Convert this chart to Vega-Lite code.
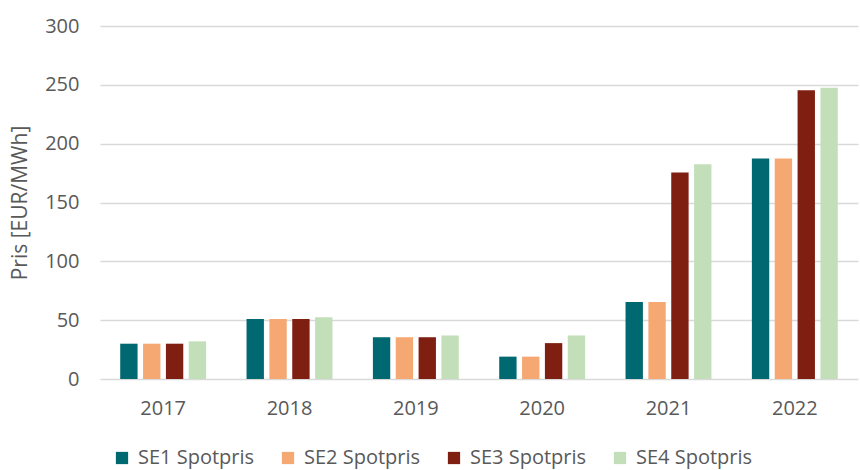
{
  "$schema": "https://vega.github.io/schema/vega-lite/v6.json",
  "width": 758,
  "height": 353,
  "autosize": "none",
  "padding": {"left": 100, "top": 26, "right": 2, "bottom": 91},
  "background": "white",
  "config": {
    "font": "Open Sans",
    "view": {"stroke": null},
    "axis": {"labelColor": "#595959", "titleColor": "#595959", "labelFont": "Open Sans", "titleFont": "Open Sans"}
  },
  "data": {
    "values": [
      {"year": "2017", "series": "SE1 Spotpris", "value": 30},
      {"year": "2017", "series": "SE2 Spotpris", "value": 30},
      {"year": "2017", "series": "SE3 Spotpris", "value": 30},
      {"year": "2017", "series": "SE4 Spotpris", "value": 32},
      {"year": "2018", "series": "SE1 Spotpris", "value": 51},
      {"year": "2018", "series": "SE2 Spotpris", "value": 51},
      {"year": "2018", "series": "SE3 Spotpris", "value": 51},
      {"year": "2018", "series": "SE4 Spotpris", "value": 52.5},
      {"year": "2019", "series": "SE1 Spotpris", "value": 35.5},
      {"year": "2019", "series": "SE2 Spotpris", "value": 35.5},
      {"year": "2019", "series": "SE3 Spotpris", "value": 35.5},
      {"year": "2019", "series": "SE4 Spotpris", "value": 37},
      {"year": "2020", "series": "SE1 Spotpris", "value": 19},
      {"year": "2020", "series": "SE2 Spotpris", "value": 19},
      {"year": "2020", "series": "SE3 Spotpris", "value": 30.5},
      {"year": "2020", "series": "SE4 Spotpris", "value": 37},
      {"year": "2021", "series": "SE1 Spotpris", "value": 65.5},
      {"year": "2021", "series": "SE2 Spotpris", "value": 65.5},
      {"year": "2021", "series": "SE3 Spotpris", "value": 175.5},
      {"year": "2021", "series": "SE4 Spotpris", "value": 182.5},
      {"year": "2022", "series": "SE1 Spotpris", "value": 187.5},
      {"year": "2022", "series": "SE2 Spotpris", "value": 187.5},
      {"year": "2022", "series": "SE3 Spotpris", "value": 245.5},
      {"year": "2022", "series": "SE4 Spotpris", "value": 247.5}
    ]
  },
  "mark": {"type": "bar"},
  "encoding": {
    "x": {
      "field": "year",
      "type": "nominal",
      "scale": {"paddingInner": 0.32, "paddingOuter": 0.16},
      "axis": {"title": null, "labelAngle": 0, "labelFontSize": 20, "labelPadding": 19, "ticks": false, "domain": false, "grid": false}
    },
    "xOffset": {
      "field": "series",
      "type": "nominal",
      "scale": {"paddingInner": 0.24, "paddingOuter": 0}
    },
    "y": {
      "field": "value",
      "type": "quantitative",
      "scale": {"domain": [0, 300], "nice": false},
      "axis": {
        "title": "Pris [EUR/MWh]",
        "titleFontSize": 21,
        "titleFontWeight": "normal",
        "titlePadding": 14,
        "labelFontSize": 20,
        "labelPadding": 21,
        "values": [0, 50, 100, 150, 200, 250, 300],
        "ticks": false,
        "domain": false,
        "grid": true,
        "gridColor": "#d9d9d9",
        "gridWidth": 1.5
      }
    },
    "color": {
      "field": "series",
      "type": "nominal",
      "scale": {
        "domain": ["SE1 Spotpris", "SE2 Spotpris", "SE3 Spotpris", "SE4 Spotpris"],
        "range": ["#006870", "#F5A872", "#7F1F12", "#C3DFBA"]
      },
      "legend": {
        "title": null,
        "orient": "none",
        "direction": "horizontal",
        "legendX": 12,
        "legendY": 422,
        "symbolType": "square",
        "symbolSize": 150,
        "symbolStrokeWidth": 0,
        "labelFontSize": 20,
        "labelColor": "#595959",
        "labelFont": "Open Sans",
        "labelOffset": 6,
        "columnPadding": 23
      }
    }
  }
}
